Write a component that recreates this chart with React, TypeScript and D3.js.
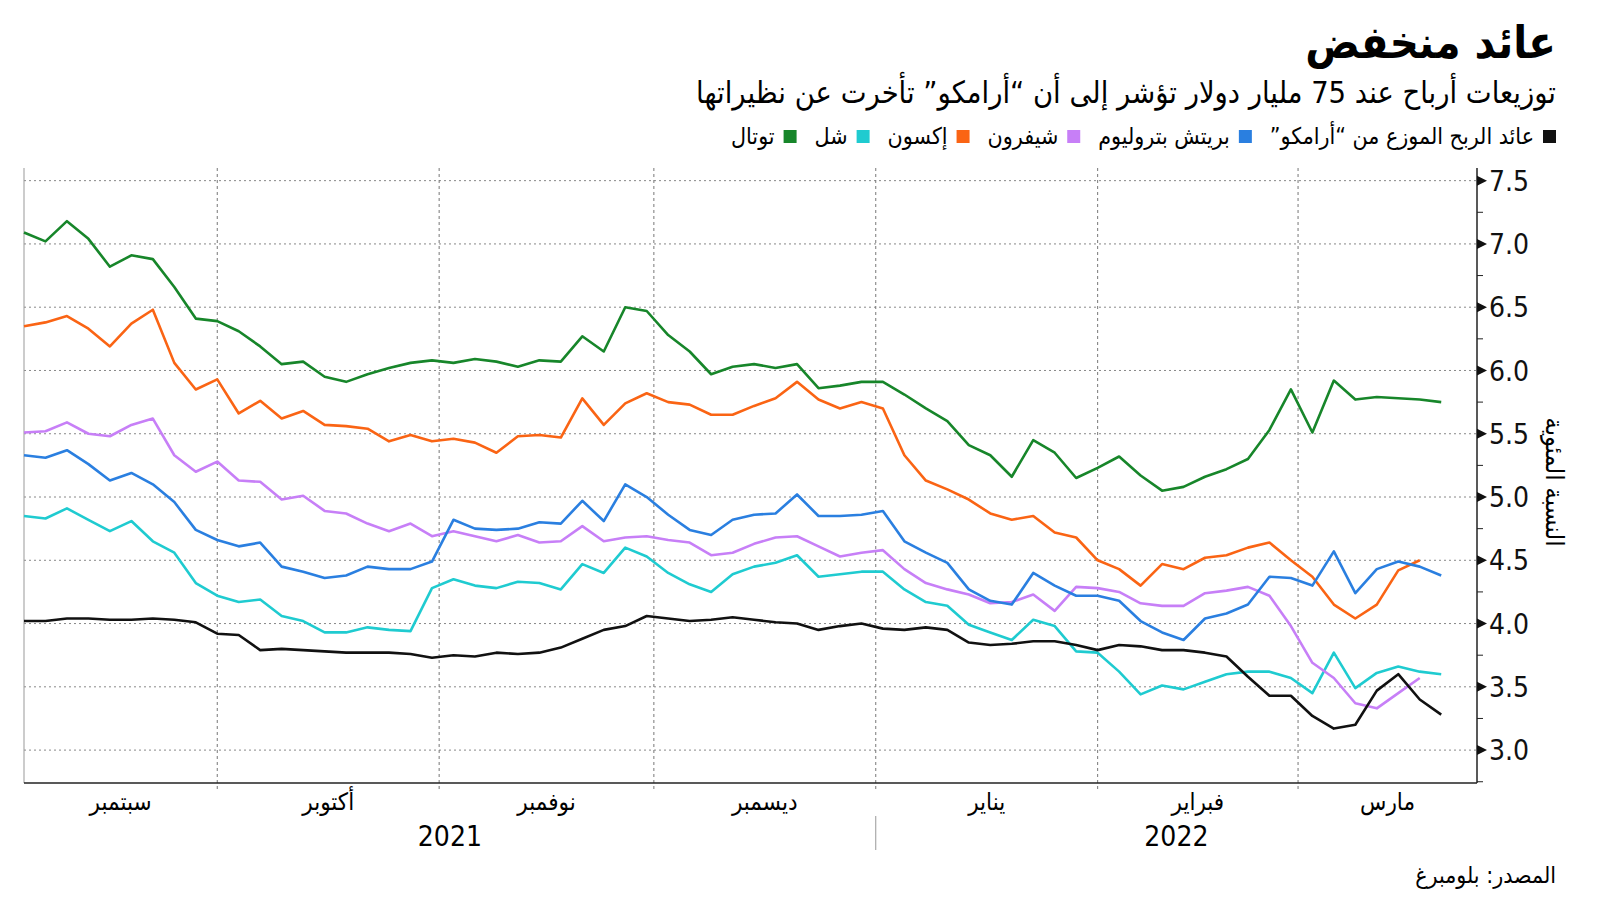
import React, { useEffect, useRef } from 'react';
import * as d3 from 'd3';

// sample dates (every 3 days)
const dates = [
  '2021-09-04', '2021-09-07', '2021-09-10', '2021-09-13', '2021-09-16', '2021-09-19', '2021-09-22', '2021-09-25', '2021-09-28',
  '2021-10-01', '2021-10-04', '2021-10-07', '2021-10-10', '2021-10-13', '2021-10-16', '2021-10-19', '2021-10-22', '2021-10-25', '2021-10-28', '2021-10-31',
  '2021-11-03', '2021-11-06', '2021-11-09', '2021-11-12', '2021-11-15', '2021-11-18', '2021-11-21', '2021-11-24', '2021-11-27', '2021-11-30',
  '2021-12-03', '2021-12-06', '2021-12-09', '2021-12-12', '2021-12-15', '2021-12-18', '2021-12-21', '2021-12-24', '2021-12-27', '2021-12-30',
  '2022-01-02', '2022-01-05', '2022-01-08', '2022-01-11', '2022-01-14', '2022-01-17', '2022-01-20', '2022-01-23', '2022-01-26', '2022-01-29',
  '2022-02-01', '2022-02-04', '2022-02-07', '2022-02-10', '2022-02-13', '2022-02-16', '2022-02-19', '2022-02-22', '2022-02-25', '2022-02-28',
  '2022-03-03', '2022-03-06', '2022-03-09', '2022-03-12', '2022-03-15', '2022-03-18', '2022-03-21',
];

const aramco = [
  4.02, 4.02, 4.04, 4.04, 4.03, 4.03, 4.04, 4.03, 4.01,
  3.92, 3.91, 3.79, 3.80, 3.79, 3.78, 3.77, 3.77, 3.77, 3.76, 3.73,
  3.75, 3.74, 3.77, 3.76, 3.77, 3.81, 3.88, 3.95, 3.98, 4.06,
  4.04, 4.02, 4.03, 4.05, 4.03, 4.01, 4.00, 3.95, 3.98, 4.00,
  3.96, 3.95, 3.97, 3.95, 3.85, 3.83, 3.84, 3.86, 3.86, 3.83,
  3.79, 3.83, 3.82, 3.79, 3.79, 3.77, 3.74, 3.58, 3.43, 3.43,
  3.27, 3.17, 3.20, 3.47, 3.60, 3.40, 3.28,
];

const bp = [
  5.33, 5.31, 5.37, 5.26, 5.13, 5.19, 5.10, 4.96, 4.74,
  4.66, 4.61, 4.64, 4.45, 4.41, 4.36, 4.38, 4.45, 4.43, 4.43, 4.49,
  4.82, 4.75, 4.74, 4.75, 4.80, 4.79, 4.97, 4.81, 5.10, 5.00,
  4.86, 4.74, 4.70, 4.82, 4.86, 4.87, 5.02, 4.85, 4.85, 4.86,
  4.89, 4.65, 4.56, 4.48, 4.27, 4.18, 4.15, 4.40, 4.30, 4.22,
  4.22, 4.18, 4.02, 3.93, 3.87, 4.04, 4.08, 4.15, 4.37, 4.36,
  4.30, 4.57, 4.24, 4.43, 4.49, 4.45, 4.38,
];

const chevron = [
  5.51, 5.52, 5.59, 5.50, 5.48, 5.57, 5.62, 5.33, 5.20,
  5.28, 5.13, 5.12, 4.98, 5.01, 4.89, 4.87, 4.79, 4.73, 4.79, 4.69,
  4.73, 4.69, 4.65, 4.70, 4.64, 4.65, 4.77, 4.65, 4.68, 4.69,
  4.66, 4.64, 4.54, 4.56, 4.63, 4.68, 4.69, 4.61, 4.53, 4.56,
  4.58, 4.43, 4.32, 4.27, 4.23, 4.16, 4.17, 4.23, 4.10, 4.29,
  4.28, 4.25, 4.16, 4.14, 4.14, 4.24, 4.26, 4.29, 4.22, 3.98,
  3.69, 3.57, 3.37, 3.33, 3.45, 3.57, null,
];

const exxon = [
  6.35, 6.38, 6.43, 6.33, 6.19, 6.37, 6.48, 6.06, 5.85,
  5.93, 5.66, 5.76, 5.62, 5.68, 5.57, 5.56, 5.54, 5.44, 5.49, 5.44,
  5.46, 5.43, 5.35, 5.48, 5.49, 5.47, 5.78, 5.57, 5.74, 5.82,
  5.75, 5.73, 5.65, 5.65, 5.72, 5.78, 5.91, 5.77, 5.70, 5.75,
  5.70, 5.33, 5.13, 5.06, 4.98, 4.87, 4.82, 4.85, 4.72, 4.68,
  4.50, 4.43, 4.30, 4.47, 4.43, 4.52, 4.54, 4.60, 4.64, 4.50,
  4.37, 4.15, 4.04, 4.15, 4.42, 4.50, null,
];

const shell = [
  4.85, 4.83, 4.91, 4.82, 4.73, 4.81, 4.65, 4.56, 4.32,
  4.22, 4.17, 4.19, 4.06, 4.02, 3.93, 3.93, 3.97, 3.95, 3.94, 4.28,
  4.35, 4.30, 4.28, 4.33, 4.32, 4.27, 4.47, 4.40, 4.60, 4.53,
  4.40, 4.31, 4.25, 4.39, 4.45, 4.48, 4.54, 4.37, 4.39, 4.41,
  4.41, 4.27, 4.17, 4.14, 3.99, 3.93, 3.87, 4.03, 3.98, 3.78,
  3.77, 3.62, 3.44, 3.51, 3.48, 3.54, 3.60, 3.62, 3.62, 3.57,
  3.45, 3.77, 3.49, 3.61, 3.66, 3.62, 3.60,
];

const total = [
  7.09, 7.02, 7.18, 7.04, 6.82, 6.91, 6.88, 6.66, 6.41,
  6.39, 6.31, 6.19, 6.05, 6.07, 5.95, 5.91, 5.97, 6.02, 6.06, 6.08,
  6.06, 6.09, 6.07, 6.03, 6.08, 6.07, 6.27, 6.15, 6.50, 6.47,
  6.28, 6.15, 5.97, 6.03, 6.05, 6.02, 6.05, 5.86, 5.88, 5.91,
  5.91, 5.81, 5.70, 5.60, 5.41, 5.33, 5.16, 5.45, 5.35, 5.15,
  5.23, 5.32, 5.17, 5.05, 5.08, 5.16, 5.22, 5.30, 5.53, 5.85,
  5.51, 5.92, 5.77, 5.79, 5.78, 5.77, 5.75,
];

const seriesNames = ['عائد الربح الموزع من “أرامكو”', 'بريتش بتروليوم', 'شيفرون', 'إكسون', 'شل', 'توتال'];
const seriesColors = ['#111111', '#2a7fe0', '#c77ff7', '#fa6414', '#1fcbd0', '#17862a'];
const seriesValues = [aramco, bp, chevron, exxon, shell, total];

const yTicks = [3.0, 3.5, 4.0, 4.5, 5.0, 5.5, 6.0, 6.5, 7.0, 7.5];
const yMinorTicks = [2.75, 3.25, 3.75, 4.25, 4.75, 5.25, 5.75, 6.25, 6.75, 7.25];
const monthStarts = ['2021-10-01', '2021-11-01', '2021-12-01', '2022-01-01', '2022-02-01', '2022-03-01'];
const monthLabels = ['سبتمبر', 'أكتوبر', 'نوفمبر', 'ديسمبر', 'يناير', 'فبراير', 'مارس'];
const yearLabels = ['2021', '2022'];

const title = 'عائد منخفض';
const subtitle = 'توزيعات أرباح عند 75 مليار دولار تؤشر إلى أن “أرامكو” تأخرت عن نظيراتها';
const yTitle = 'النسبة المئوية';
const source = 'المصدر: بلومبرغ';

const FONT = "'DejaVu Sans Condensed', 'DejaVu Sans', sans-serif";

export default function App() {
  const ref = useRef(null);

  useEffect(() => {
    const width = 1600;
    const height = 901;
    const left = 24, right = 1477, top = 168, bottom = 783;
    const textRight = 1556;

    const svg = d3.select(ref.current)
      .attr('width', width)
      .attr('height', height);
    svg.selectAll('*').remove();

    const parse = d3.timeParse('%Y-%m-%d');
    const x = d3.scaleTime()
      .domain([parse('2021-09-04'), parse('2022-03-26')])
      .range([left, right]);
    const y = d3.scaleLinear()
      .domain([2.74, 7.6])
      .range([bottom, top]);

    // title block
    svg.append('text')
      .attr('x', textRight).attr('y', 58)
      .attr('direction', 'rtl').attr('text-anchor', 'start')
      .attr('font-family', FONT).attr('font-weight', 'bold').attr('font-size', 45)
      .text(title);
    svg.append('text')
      .attr('x', textRight).attr('y', 103)
      .attr('direction', 'rtl').attr('text-anchor', 'start')
      .attr('font-family', FONT).attr('font-size', 30.5)
      .text(subtitle);

    // legend, right to left
    const legend = svg.append('g');
    let lx = textRight;
    seriesNames.forEach((name, i) => {
      legend.append('rect')
        .attr('x', lx - 13).attr('y', 130)
        .attr('width', 13).attr('height', 13)
        .attr('fill', seriesColors[i]);
      const t = legend.append('text')
        .attr('x', lx - 22).attr('y', 144)
        .attr('direction', 'rtl').attr('text-anchor', 'start')
        .attr('font-family', FONT).attr('font-size', 23)
        .text(name);
      const w = t.node().getComputedTextLength();
      lx = lx - 22 - w - 18;
    });

    // grid
    svg.append('g').selectAll('line')
      .data(yTicks)
      .join('line')
      .attr('x1', left).attr('x2', right)
      .attr('y1', d => y(d)).attr('y2', d => y(d))
      .attr('stroke', '#888').attr('stroke-width', 1)
      .attr('stroke-dasharray', '2,3');

    svg.append('g').selectAll('line')
      .data(monthStarts)
      .join('line')
      .attr('x1', d => x(parse(d))).attr('x2', d => x(parse(d)))
      .attr('y1', top).attr('y2', bottom + 8)
      .attr('stroke', '#777').attr('stroke-width', 1)
      .attr('stroke-dasharray', '3,3');

    // frame
    svg.append('line')
      .attr('x1', left).attr('x2', left).attr('y1', top).attr('y2', bottom)
      .attr('stroke', '#999').attr('stroke-width', 1);
    svg.append('line')
      .attr('x1', left).attr('x2', right).attr('y1', bottom).attr('y2', bottom)
      .attr('stroke', '#222').attr('stroke-width', 1.5);
    svg.append('line')
      .attr('x1', right).attr('x2', right).attr('y1', top).attr('y2', bottom)
      .attr('stroke', '#222').attr('stroke-width', 1.5);

    // y axis ticks and labels
    const yAxis = svg.append('g');
    yAxis.selectAll('path')
      .data(yTicks)
      .join('path')
      .attr('d', d => `M${right},${y(d) - 5}L${right + 10},${y(d)}L${right},${y(d) + 5}Z`)
      .attr('fill', '#111');
    yAxis.selectAll('line')
      .data(yMinorTicks)
      .join('line')
      .attr('x1', right).attr('x2', right + 6)
      .attr('y1', d => y(d)).attr('y2', d => y(d))
      .attr('stroke', '#222').attr('stroke-width', 1);
    yAxis.selectAll('text')
      .data(yTicks)
      .join('text')
      .attr('x', right + 12).attr('y', d => y(d))
      .attr('dy', '0.36em')
      .attr('font-family', FONT).attr('font-size', 28)
      .attr('fill', '#111')
      .text(d => d3.format('.1f')(d));

    svg.append('text')
      .attr('transform', `translate(1546,482) rotate(90)`)
      .attr('text-anchor', 'middle')
      .attr('font-family', FONT).attr('font-size', 25)
      .text(yTitle);

    // x axis month labels
    const bounds = [x.domain()[0], ...monthStarts.map(parse), x.domain()[1]];
    svg.append('g').selectAll('text')
      .data(monthLabels)
      .join('text')
      .attr('x', (d, i) => (x(bounds[i]) + x(bounds[i + 1])) / 2)
      .attr('y', 810)
      .attr('text-anchor', 'middle')
      .attr('font-family', FONT).attr('font-size', 24)
      .text(d => d);

    const yearSplit = parse('2022-01-01');
    const yearBounds = [[x.domain()[0], yearSplit], [yearSplit, x.domain()[1]]];
    svg.append('g').selectAll('text')
      .data(yearLabels)
      .join('text')
      .attr('x', (d, i) => (x(yearBounds[i][0]) + x(yearBounds[i][1])) / 2)
      .attr('y', 846)
      .attr('text-anchor', 'middle')
      .attr('font-family', FONT).attr('font-size', 28)
      .text(d => d);
    svg.append('line')
      .attr('x1', x(yearSplit)).attr('x2', x(yearSplit))
      .attr('y1', 816).attr('y2', 850)
      .attr('stroke', '#999').attr('stroke-width', 1);

    // lines
    const line = d3.line()
      .defined(d => d.v != null)
      .x(d => x(d.date))
      .y(d => y(d.v));

    const order = [5, 4, 3, 2, 1, 0];
    svg.append('g').selectAll('path')
      .data(order)
      .join('path')
      .attr('d', i => line(dates.map((s, k) => ({ date: parse(s), v: seriesValues[i][k] }))))
      .attr('fill', 'none')
      .attr('stroke', i => seriesColors[i])
      .attr('stroke-width', 2.6)
      .attr('stroke-linejoin', 'round');

    // source
    svg.append('text')
      .attr('x', textRight).attr('y', 883)
      .attr('direction', 'rtl').attr('text-anchor', 'start')
      .attr('font-family', FONT).attr('font-size', 23)
      .text(source);
  }, []);

  return (
    <div style={{ position: 'absolute', left: 0, top: 0 }}>
      <svg ref={ref} style={{ display: 'block' }} />
    </div>
  );
}
